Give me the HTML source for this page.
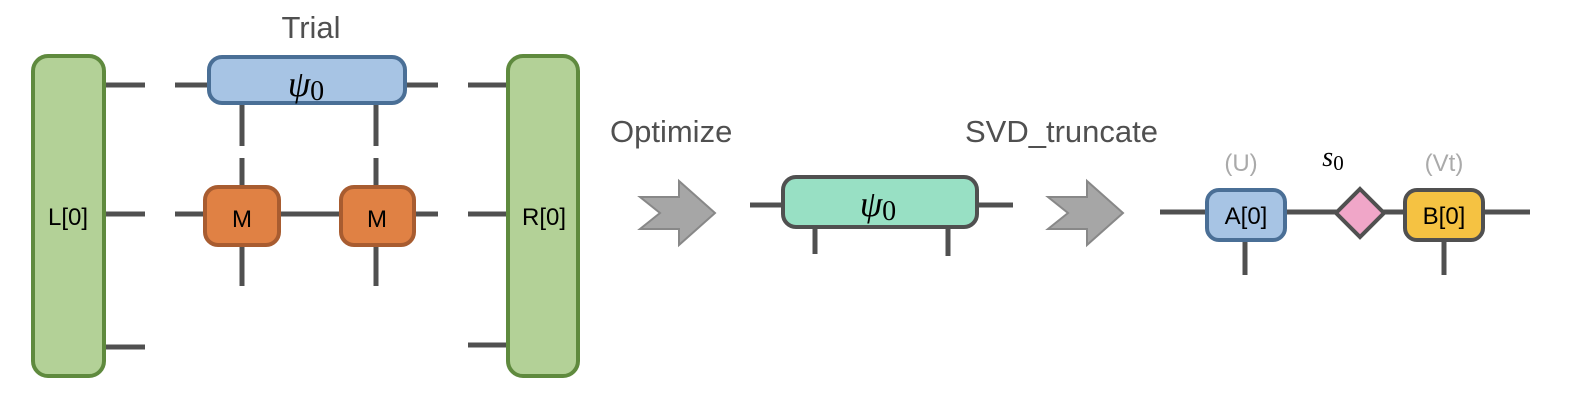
<!DOCTYPE html>
<html><head><style>
html,body{margin:0;padding:0;background:#fff;}
svg{display:block;}
.s{font-family:"Liberation Sans",sans-serif;}
.m{font-family:"Liberation Serif",serif;font-style:italic;}
</style></head><body>
<svg width="1586" height="412" viewBox="0 0 1586 412" xmlns="http://www.w3.org/2000/svg">
<g stroke="#505050" stroke-width="5" fill="none">
  <line x1="105" y1="85" x2="145" y2="85"/>
  <line x1="105" y1="214" x2="145" y2="214"/>
  <line x1="105" y1="347" x2="145" y2="347"/>
  <line x1="175" y1="85" x2="210" y2="85"/>
  <line x1="404" y1="85" x2="438" y2="85"/>
  <line x1="242" y1="104" x2="242" y2="146"/>
  <line x1="376" y1="104" x2="376" y2="146"/>
  <line x1="242" y1="158" x2="242" y2="188"/>
  <line x1="376" y1="158" x2="376" y2="188"/>
  <line x1="242" y1="244" x2="242" y2="286"/>
  <line x1="376" y1="244" x2="376" y2="286"/>
  <line x1="175" y1="214" x2="205" y2="214"/>
  <line x1="278" y1="214" x2="341" y2="214"/>
  <line x1="414" y1="214" x2="438" y2="214"/>
  <line x1="468" y1="85" x2="508" y2="85"/>
  <line x1="468" y1="214" x2="508" y2="214"/>
  <line x1="468" y1="345" x2="508" y2="345"/>
  <line x1="750" y1="205" x2="783" y2="205"/>
  <line x1="976" y1="205" x2="1013" y2="205"/>
  <line x1="815" y1="228" x2="815" y2="254"/>
  <line x1="948" y1="228" x2="948" y2="256"/>
  <line x1="1160" y1="212" x2="1530" y2="212"/>
  <line x1="1245" y1="240" x2="1245" y2="275"/>
  <line x1="1444" y1="240" x2="1444" y2="275"/>
</g>
<rect x="33" y="56" width="71" height="320" rx="15" fill="#b3d197" stroke="#5f8a3e" stroke-width="4"/>
<rect x="508" y="56" width="70" height="320" rx="15" fill="#b3d197" stroke="#5f8a3e" stroke-width="4"/>
<text class="s" x="68" y="225" font-size="24" text-anchor="middle">L[0]</text>
<text class="s" x="544" y="225" font-size="24" text-anchor="middle">R[0]</text>
<text class="s" x="311" y="38" font-size="31" fill="#505050" text-anchor="middle">Trial</text>
<rect x="209" y="57" width="196" height="46" rx="13" fill="#a7c4e4" stroke="#4a6f96" stroke-width="4"/>
<text class="m" x="306" y="96" font-size="36" text-anchor="middle">ψ<tspan style="font-style:normal" font-size="28" dy="4">0</tspan></text>
<rect x="205" y="187" width="74" height="58" rx="13" fill="#e08144" stroke="#a85c30" stroke-width="4"/>
<rect x="341" y="187" width="73" height="58" rx="13" fill="#e08144" stroke="#a85c30" stroke-width="4"/>
<text class="s" x="242" y="227" font-size="24" text-anchor="middle">M</text>
<text class="s" x="377" y="227" font-size="24" text-anchor="middle">M</text>
<text class="s" x="610" y="142" font-size="31" fill="#505050">Optimize</text>
<text class="s" x="965" y="142" font-size="31" fill="#505050">SVD_truncate</text>
<polygon points="640,197 679,197 679,181 715,213 679,245 679,229 640,229 660,213" fill="#a6a6a6" stroke="#888" stroke-width="2"/>
<polygon points="1048,197 1087,197 1087,181 1123,213 1087,245 1087,229 1048,229 1068,213" fill="#a6a6a6" stroke="#888" stroke-width="2"/>
<rect x="783" y="177" width="194" height="50" rx="13" fill="#98e0c4" stroke="#505050" stroke-width="4"/>
<text class="m" x="878" y="216" font-size="36" text-anchor="middle">ψ<tspan style="font-style:normal" font-size="28" dy="4">0</tspan></text>
<rect x="1207" y="190" width="78" height="50" rx="12" fill="#a7c4e4" stroke="#4a6f96" stroke-width="4"/>
<text class="s" x="1246" y="224" font-size="24" text-anchor="middle">A[0]</text>
<polygon points="1360,189 1384,213 1360,237 1336,213" fill="#f0a6c8" stroke="#505050" stroke-width="4"/>
<rect x="1405" y="190" width="78" height="50" rx="12" fill="#f5c242" stroke="#505050" stroke-width="4"/>
<text class="s" x="1444" y="224" font-size="24" text-anchor="middle">B[0]</text>
<text class="s" x="1241" y="171" font-size="24" fill="#aaa" text-anchor="middle">(U)</text>
<text class="s" x="1444" y="171" font-size="24" fill="#aaa" text-anchor="middle">(Vt)</text>
<text class="m" x="1333" y="166" font-size="28" text-anchor="middle">s<tspan style="font-style:normal" font-size="21" dy="4">0</tspan></text>
</svg>
</body></html>
